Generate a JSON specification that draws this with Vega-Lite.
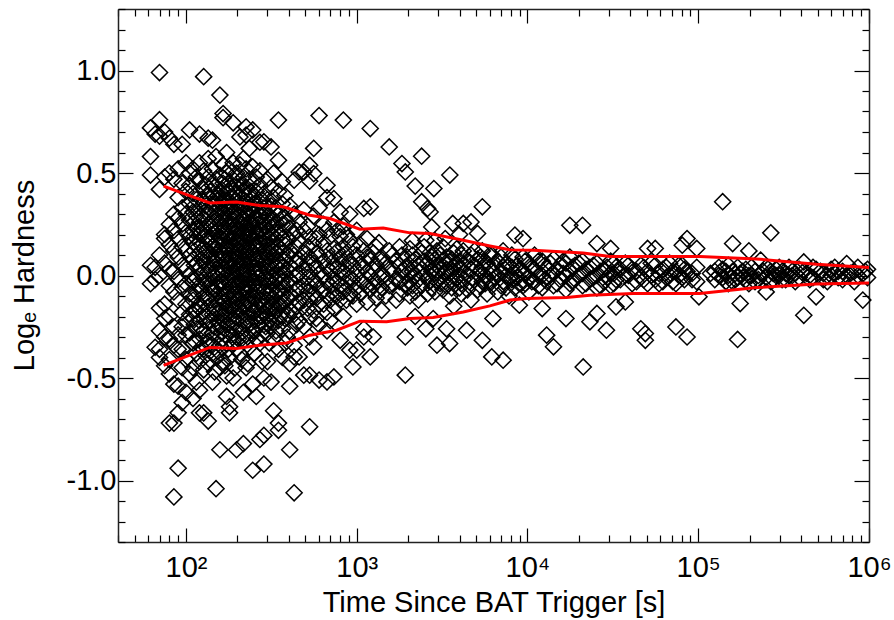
{
"$schema": "https://vega.github.io/schema/vega-lite/v6.json",
"width": 751, "height": 533,
"autosize": {"type": "none"},
"padding": {"left": 118, "top": 9, "right": 25, "bottom": 78},
"background": "white",
"config": {"view": {"stroke": null}, "font": "Liberation Sans",
  "axis": {"grid": false, "domainColor": "#222", "domainWidth": 1.5, "tickColor": "#000", "tickWidth": 1.2, "labelColor": "#000", "titleColor": "#000", "labelFontWeight": "normal", "titleFontWeight": "normal", "labelOverlap": false, "labelFlush": false, "labelBound": false}},
"datasets": {
"pts": [
{"t":62,"h":0.72},{"t":62,"h":0.58},{"t":62,"h":0.49},{"t":62,"h":0.05},{"t":62,"h":-0.04},
{"t":66,"h":0.69},{"t":66,"h":0.04},{"t":66,"h":-0.02},{"t":66,"h":-0.35},
{"t":70,"h":0.99},{"t":70,"h":0.68},{"t":70,"h":0.76},{"t":70,"h":0.42},{"t":70,"h":0.1},{"t":70,"h":0},{"t":70,"h":-0.16},{"t":70,"h":-0.27},{"t":70,"h":-0.36},{"t":70,"h":-0.4},
{"t":75,"h":0.48},{"t":75,"h":0.7},{"t":75,"h":0.2},{"t":75,"h":0.18},{"t":75,"h":0.06},{"t":75,"h":-0.14},{"t":75,"h":-0.21},{"t":75,"h":-0.3},{"t":75,"h":-0.44},
{"t":80,"h":0.67},{"t":80,"h":0.5},{"t":80,"h":0.25},{"t":80,"h":0.15},{"t":80,"h":0.03},{"t":80,"h":-0.05},{"t":80,"h":-0.2},{"t":80,"h":-0.31},{"t":80,"h":-0.41},{"t":80,"h":-0.48},{"t":80,"h":-0.72},
{"t":85,"h":0.64},{"t":85,"h":0.47},{"t":85,"h":0.3},{"t":85,"h":0.22},{"t":85,"h":0.12},{"t":85,"h":0.02},{"t":85,"h":-0.08},{"t":85,"h":-0.25},{"t":85,"h":-0.34},{"t":85,"h":-0.53},{"t":85,"h":-0.72},{"t":85,"h":-1.08},
{"t":90,"h":0.52},{"t":90,"h":0.38},{"t":90,"h":0.28},{"t":90,"h":0.18},{"t":90,"h":0.09},{"t":90,"h":-0.02},{"t":90,"h":-0.12},{"t":90,"h":-0.29},{"t":90,"h":-0.36},{"t":90,"h":-0.54},{"t":90,"h":-0.67},{"t":90,"h":-0.94},
{"t":95,"h":0.64},{"t":95,"h":0.45},{"t":95,"h":0.33},{"t":95,"h":0.25},{"t":95,"h":0.14},{"t":95,"h":0.05},{"t":95,"h":-0.06},{"t":95,"h":-0.18},{"t":95,"h":-0.25},{"t":95,"h":-0.36},{"t":95,"h":-0.45},{"t":95,"h":-0.62},
{"t":100,"h":0.55},{"t":100,"h":0.41},{"t":100,"h":0.3},{"t":100,"h":0.21},{"t":100,"h":0.12},{"t":100,"h":0.03},{"t":100,"h":-0.04},{"t":100,"h":-0.14},{"t":100,"h":-0.22},{"t":100,"h":-0.29},{"t":100,"h":-0.41},{"t":100,"h":-0.57},
{"t":105,"h":0.71},{"t":105,"h":0.5},{"t":105,"h":0.44},{"t":105,"h":0.35},{"t":105,"h":0.27},{"t":105,"h":0.19},{"t":105,"h":0.1},{"t":105,"h":0},{"t":105,"h":-0.09},{"t":105,"h":-0.19},{"t":105,"h":-0.28},{"t":105,"h":-0.48},
{"t":110,"h":0.52},{"t":110,"h":0.4},{"t":110,"h":0.31},{"t":110,"h":0.22},{"t":110,"h":0.16},{"t":110,"h":0.08},{"t":110,"h":-0.03},{"t":110,"h":-0.12},{"t":110,"h":-0.21},{"t":110,"h":-0.33},{"t":110,"h":-0.45},{"t":110,"h":-0.6},
{"t":115,"h":0.48},{"t":115,"h":0.37},{"t":115,"h":0.29},{"t":115,"h":0.23},{"t":115,"h":0.15},{"t":115,"h":0.06},{"t":115,"h":-0.01},{"t":115,"h":-0.08},{"t":115,"h":-0.17},{"t":115,"h":-0.26},{"t":115,"h":-0.38},{"t":115,"h":-0.52},
{"t":120,"h":0.69},{"t":120,"h":0.55},{"t":120,"h":0.46},{"t":120,"h":0.33},{"t":120,"h":0.26},{"t":120,"h":0.2},{"t":120,"h":0.11},{"t":120,"h":0.04},{"t":120,"h":-0.05},{"t":120,"h":-0.14},{"t":120,"h":-0.22},{"t":120,"h":-0.31},{"t":120,"h":-0.42},{"t":120,"h":-0.56},{"t":120,"h":-0.67},
{"t":127,"h":0.97},{"t":127,"h":0.51},{"t":127,"h":0.42},{"t":127,"h":0.36},{"t":127,"h":0.28},{"t":127,"h":0.22},{"t":127,"h":0.13},{"t":127,"h":0.07},{"t":127,"h":-0.02},{"t":127,"h":-0.1},{"t":127,"h":-0.18},{"t":127,"h":-0.27},{"t":127,"h":-0.36},{"t":127,"h":-0.46},{"t":127,"h":-0.67},
{"t":135,"h":0.67},{"t":135,"h":0.57},{"t":135,"h":0.48},{"t":135,"h":0.39},{"t":135,"h":0.31},{"t":135,"h":0.25},{"t":135,"h":0.17},{"t":135,"h":0.09},{"t":135,"h":0.02},{"t":135,"h":-0.06},{"t":135,"h":-0.15},{"t":135,"h":-0.23},{"t":135,"h":-0.32},{"t":135,"h":-0.43},{"t":135,"h":-0.71},
{"t":143,"h":0.66},{"t":143,"h":0.52},{"t":143,"h":0.44},{"t":143,"h":0.35},{"t":143,"h":0.27},{"t":143,"h":0.2},{"t":143,"h":0.14},{"t":143,"h":0.06},{"t":143,"h":-0.01},{"t":143,"h":-0.08},{"t":143,"h":-0.19},{"t":143,"h":-0.28},{"t":143,"h":-0.38},{"t":143,"h":-0.52},
{"t":150,"h":0.58},{"t":150,"h":0.47},{"t":150,"h":0.38},{"t":150,"h":0.32},{"t":150,"h":0.24},{"t":150,"h":0.16},{"t":150,"h":0.1},{"t":150,"h":0.03},{"t":150,"h":-0.05},{"t":150,"h":-0.12},{"t":150,"h":-0.21},{"t":150,"h":-0.3},{"t":150,"h":-0.4},{"t":150,"h":-1.04},
{"t":158,"h":0.88},{"t":158,"h":0.49},{"t":158,"h":0.41},{"t":158,"h":0.33},{"t":158,"h":0.26},{"t":158,"h":0.19},{"t":158,"h":0.12},{"t":158,"h":0.05},{"t":158,"h":-0.03},{"t":158,"h":-0.1},{"t":158,"h":-0.17},{"t":158,"h":-0.25},{"t":158,"h":-0.34},{"t":158,"h":-0.45},{"t":158,"h":-0.85},
{"t":165,"h":0.79},{"t":165,"h":0.77},{"t":165,"h":0.54},{"t":165,"h":0.45},{"t":165,"h":0.37},{"t":165,"h":0.3},{"t":165,"h":0.22},{"t":165,"h":0.15},{"t":165,"h":0.08},{"t":165,"h":0.01},{"t":165,"h":-0.06},{"t":165,"h":-0.13},{"t":165,"h":-0.22},{"t":165,"h":-0.31},{"t":165,"h":-0.42},
{"t":173,"h":0.6},{"t":173,"h":0.5},{"t":173,"h":0.4},{"t":173,"h":0.33},{"t":173,"h":0.27},{"t":173,"h":0.2},{"t":173,"h":0.14},{"t":173,"h":0.07},{"t":173,"h":0},{"t":173,"h":-0.09},{"t":173,"h":-0.16},{"t":173,"h":-0.24},{"t":173,"h":-0.33},{"t":173,"h":-0.49},{"t":173,"h":-0.59},
{"t":180,"h":0.52},{"t":180,"h":0.44},{"t":180,"h":0.36},{"t":180,"h":0.29},{"t":180,"h":0.24},{"t":180,"h":0.17},{"t":180,"h":0.1},{"t":180,"h":0.04},{"t":180,"h":-0.04},{"t":180,"h":-0.11},{"t":180,"h":-0.19},{"t":180,"h":-0.28},{"t":180,"h":-0.4},{"t":180,"h":-0.64},{"t":180,"h":-0.67},
{"t":189,"h":0.745},{"t":189,"h":0.55},{"t":189,"h":0.47},{"t":189,"h":0.38},{"t":189,"h":0.31},{"t":189,"h":0.25},{"t":189,"h":0.18},{"t":189,"h":0.12},{"t":189,"h":0.05},{"t":189,"h":-0.01},{"t":189,"h":-0.07},{"t":189,"h":-0.15},{"t":189,"h":-0.23},{"t":189,"h":-0.33},{"t":189,"h":-0.5},
{"t":198,"h":0.5},{"t":198,"h":0.43},{"t":198,"h":0.35},{"t":198,"h":0.28},{"t":198,"h":0.22},{"t":198,"h":0.16},{"t":198,"h":0.09},{"t":198,"h":0.03},{"t":198,"h":-0.05},{"t":198,"h":-0.13},{"t":198,"h":-0.2},{"t":198,"h":-0.3},{"t":198,"h":-0.36},{"t":198,"h":-0.85},
{"t":207,"h":0.676},{"t":207,"h":0.54},{"t":207,"h":0.46},{"t":207,"h":0.39},{"t":207,"h":0.32},{"t":207,"h":0.26},{"t":207,"h":0.19},{"t":207,"h":0.12},{"t":207,"h":0.06},{"t":207,"h":-0.02},{"t":207,"h":-0.09},{"t":207,"h":-0.17},{"t":207,"h":-0.26},{"t":207,"h":-0.38},
{"t":217,"h":0.57},{"t":217,"h":0.48},{"t":217,"h":0.41},{"t":217,"h":0.35},{"t":217,"h":0.28},{"t":217,"h":0.21},{"t":217,"h":0.14},{"t":217,"h":0.07},{"t":217,"h":0.01},{"t":217,"h":-0.06},{"t":217,"h":-0.14},{"t":217,"h":-0.22},{"t":217,"h":-0.32},{"t":217,"h":-0.57},{"t":217,"h":-0.82},
{"t":225,"h":0.725},{"t":225,"h":0.685},{"t":225,"h":0.52},{"t":225,"h":0.43},{"t":225,"h":0.36},{"t":225,"h":0.3},{"t":225,"h":0.23},{"t":225,"h":0.16},{"t":225,"h":0.1},{"t":225,"h":0.03},{"t":225,"h":-0.04},{"t":225,"h":-0.11},{"t":225,"h":-0.19},{"t":225,"h":-0.29},{"t":225,"h":-0.45},
{"t":235,"h":0.62},{"t":235,"h":0.47},{"t":235,"h":0.4},{"t":235,"h":0.33},{"t":235,"h":0.26},{"t":235,"h":0.2},{"t":235,"h":0.13},{"t":235,"h":0.07},{"t":235,"h":0},{"t":235,"h":-0.08},{"t":235,"h":-0.16},{"t":235,"h":-0.24},{"t":235,"h":-0.35},
{"t":246,"h":0.71},{"t":246,"h":0.53},{"t":246,"h":0.45},{"t":246,"h":0.37},{"t":246,"h":0.3},{"t":246,"h":0.24},{"t":246,"h":0.17},{"t":246,"h":0.11},{"t":246,"h":0.04},{"t":246,"h":-0.03},{"t":246,"h":-0.1},{"t":246,"h":-0.18},{"t":246,"h":-0.27},{"t":246,"h":-0.53},{"t":246,"h":-0.95},
{"t":258,"h":0.48},{"t":258,"h":0.41},{"t":258,"h":0.34},{"t":258,"h":0.27},{"t":258,"h":0.21},{"t":258,"h":0.14},{"t":258,"h":0.08},{"t":258,"h":0.01},{"t":258,"h":-0.06},{"t":258,"h":-0.14},{"t":258,"h":-0.22},{"t":258,"h":-0.31},{"t":258,"h":-0.59},
{"t":271,"h":0.65},{"t":271,"h":0.51},{"t":271,"h":0.44},{"t":271,"h":0.36},{"t":271,"h":0.29},{"t":271,"h":0.22},{"t":271,"h":0.16},{"t":271,"h":0.1},{"t":271,"h":0.03},{"t":271,"h":-0.04},{"t":271,"h":-0.12},{"t":271,"h":-0.2},{"t":271,"h":-0.33},{"t":271,"h":-0.8},
{"t":286,"h":0.652},{"t":286,"h":0.4},{"t":286,"h":0.33},{"t":286,"h":0.26},{"t":286,"h":0.19},{"t":286,"h":0.12},{"t":286,"h":0.06},{"t":286,"h":-0.01},{"t":286,"h":-0.08},{"t":286,"h":-0.15},{"t":286,"h":-0.24},{"t":286,"h":-0.5},{"t":286,"h":-0.78},{"t":286,"h":-0.92},
{"t":300,"h":0.47},{"t":300,"h":0.37},{"t":300,"h":0.29},{"t":300,"h":0.22},{"t":300,"h":0.15},{"t":300,"h":0.09},{"t":300,"h":0.02},{"t":300,"h":-0.05},{"t":300,"h":-0.12},{"t":300,"h":-0.2},{"t":300,"h":-0.28},{"t":300,"h":-0.42},
{"t":315,"h":0.627},{"t":315,"h":0.43},{"t":315,"h":0.34},{"t":315,"h":0.27},{"t":315,"h":0.2},{"t":315,"h":0.13},{"t":315,"h":0.06},{"t":315,"h":-0.01},{"t":315,"h":-0.08},{"t":315,"h":-0.16},{"t":315,"h":-0.25},{"t":315,"h":-0.52},
{"t":326,"h":0.5},{"t":326,"h":0.38},{"t":326,"h":0.24},{"t":326,"h":0.17},{"t":326,"h":0.1},{"t":326,"h":0.03},{"t":326,"h":-0.04},{"t":326,"h":-0.11},{"t":326,"h":-0.19},{"t":326,"h":-0.31},{"t":326,"h":-0.66},
{"t":348,"h":0.562},{"t":348,"h":0.758},{"t":348,"h":0.41},{"t":348,"h":0.3},{"t":348,"h":0.21},{"t":348,"h":0.14},{"t":348,"h":0.07},{"t":348,"h":0},{"t":348,"h":-0.07},{"t":348,"h":-0.14},{"t":348,"h":-0.22},{"t":348,"h":-0.36},{"t":348,"h":-0.72},{"t":348,"h":-0.755},
{"t":367,"h":0.457},{"t":367,"h":0.35},{"t":367,"h":0.25},{"t":367,"h":0.18},{"t":367,"h":0.11},{"t":367,"h":0.04},{"t":367,"h":-0.03},{"t":367,"h":-0.1},{"t":367,"h":-0.18},{"t":367,"h":-0.26},{"t":367,"h":-0.4},
{"t":380,"h":0.39},{"t":380,"h":0.28},{"t":380,"h":0.15},{"t":380,"h":0.08},{"t":380,"h":0.01},{"t":380,"h":-0.06},{"t":380,"h":-0.13},{"t":380,"h":-0.21},{"t":380,"h":-0.33},{"t":430,"h":-1.06},
{"t":405,"h":0.34},{"t":405,"h":0.23},{"t":405,"h":0.12},{"t":405,"h":0.05},{"t":405,"h":-0.02},{"t":405,"h":-0.09},{"t":405,"h":-0.17},{"t":405,"h":-0.27},{"t":405,"h":-0.43},{"t":405,"h":-0.54},{"t":405,"h":-0.85},
{"t":430,"h":0.465},{"t":430,"h":0.3},{"t":430,"h":0.2},{"t":430,"h":0.1},{"t":430,"h":0.03},{"t":430,"h":-0.04},{"t":430,"h":-0.11},{"t":430,"h":-0.19},{"t":430,"h":-0.34},{"t":430,"h":-0.397},
{"t":460,"h":0.505},{"t":460,"h":0.26},{"t":460,"h":0.17},{"t":460,"h":0.08},{"t":460,"h":0.01},{"t":460,"h":-0.06},{"t":460,"h":-0.13},{"t":460,"h":-0.22},{"t":460,"h":-0.397},
{"t":490,"h":0.505},{"t":490,"h":0.32},{"t":490,"h":0.22},{"t":490,"h":0.11},{"t":490,"h":0.03},{"t":490,"h":-0.05},{"t":490,"h":-0.12},{"t":490,"h":-0.25},{"t":490,"h":-0.486},
{"t":530,"h":0.538},{"t":530,"h":0.46},{"t":530,"h":0.19},{"t":530,"h":0.09},{"t":530,"h":0.02},{"t":530,"h":-0.05},{"t":530,"h":-0.12},{"t":530,"h":-0.2},{"t":530,"h":-0.3},{"t":530,"h":-0.486},{"t":530,"h":-0.738},
{"t":560,"h":0.62},{"t":560,"h":0.497},{"t":560,"h":0.29},{"t":560,"h":0.15},{"t":560,"h":0.06},{"t":560,"h":-0.02},{"t":560,"h":-0.09},{"t":560,"h":-0.17},{"t":560,"h":-0.348},
{"t":602,"h":0.78},{"t":602,"h":0.33},{"t":602,"h":0.2},{"t":602,"h":0.1},{"t":602,"h":0.01},{"t":602,"h":-0.06},{"t":602,"h":-0.14},{"t":602,"h":-0.24},{"t":602,"h":-0.51},
{"t":670,"h":0.44},{"t":670,"h":0.38},{"t":670,"h":0.22},{"t":670,"h":0.12},{"t":670,"h":0.04},{"t":670,"h":-0.03},{"t":670,"h":-0.1},{"t":670,"h":-0.18},{"t":670,"h":-0.27},{"t":670,"h":-0.519},
{"t":735,"h":0.375},{"t":735,"h":0.26},{"t":735,"h":0.13},{"t":735,"h":0.05},{"t":735,"h":-0.02},{"t":735,"h":-0.09},{"t":735,"h":-0.16},{"t":735,"h":-0.495},
{"t":800,"h":0.31},{"t":800,"h":0.19},{"t":800,"h":0.09},{"t":800,"h":0.02},{"t":800,"h":-0.05},{"t":800,"h":-0.12},{"t":800,"h":-0.316},
{"t":835,"h":0.758},{"t":835,"h":0.24},{"t":835,"h":0.14},{"t":835,"h":0.06},{"t":835,"h":-0.01},{"t":835,"h":-0.08},{"t":835,"h":-0.2},
{"t":910,"h":0.3},{"t":910,"h":0.17},{"t":910,"h":0.07},{"t":910,"h":-0.01},{"t":910,"h":-0.09},{"t":910,"h":-0.364},{"t":950,"h":-0.446},
{"t":1000,"h":0.22},{"t":1000,"h":0.1},{"t":1000,"h":0.02},{"t":1000,"h":-0.06},{"t":1000,"h":-0.14},{"t":1000,"h":-0.364},
{"t":1100,"h":0.327},{"t":1100,"h":0.12},{"t":1100,"h":0.04},{"t":1100,"h":-0.04},{"t":1100,"h":-0.26},{"t":1100,"h":-0.3},
{"t":1200,"h":0.717},{"t":1200,"h":0.335},{"t":1200,"h":0.08},{"t":1200,"h":0},{"t":1200,"h":-0.07},{"t":1200,"h":-0.397},{"t":1250,"h":-0.3},
{"t":1300,"h":0.14},{"t":1300,"h":0.05},{"t":1300,"h":-0.03},{"t":1300,"h":-0.11},
{"t":1400,"h":0.09},{"t":1400,"h":0.01},{"t":1400,"h":-0.06},{"t":1400,"h":-0.17},
{"t":1550,"h":0.627},{"t":1550,"h":0.12},{"t":1550,"h":0.03},{"t":1550,"h":-0.05},
{"t":1700,"h":0.07},{"t":1700,"h":-0.02},{"t":1700,"h":-0.12},
{"t":1840,"h":0.546},{"t":1925,"h":0.505},{"t":1840,"h":0.1},{"t":1840,"h":0.02},{"t":1925,"h":-0.3},
{"t":1925,"h":0.04},{"t":1925,"h":-0.04},{"t":1925,"h":-0.486},
{"t":2050,"h":0.13},{"t":2050,"h":0.05},{"t":2050,"h":-0.03},{"t":2050,"h":-0.1},
{"t":2200,"h":0.436},{"t":2200,"h":0.08},{"t":2200,"h":0},{"t":2200,"h":-0.08},{"t":2200,"h":-0.2},
{"t":2400,"h":0.582},{"t":2400,"h":0.36},{"t":2400,"h":0.11},{"t":2400,"h":0.03},{"t":2400,"h":-0.05},{"t":2540,"h":-0.26},
{"t":2600,"h":0.327},{"t":2690,"h":0.31},{"t":2540,"h":0.172},{"t":2600,"h":0.06},{"t":2600,"h":-0.01},{"t":2600,"h":-0.09},
{"t":2750,"h":0.237},{"t":2830,"h":0.424},{"t":2750,"h":0.09},{"t":2750,"h":0.02},{"t":2750,"h":-0.06},{"t":2805,"h":-0.21},
{"t":2950,"h":0.12},{"t":2950,"h":0.05},{"t":2950,"h":-0.03},{"t":2950,"h":-0.34},
{"t":3200,"h":0.075},{"t":3200,"h":0.14},{"t":3200,"h":0},{"t":3200,"h":-0.07},
{"t":3360,"h":0.09},{"t":3360,"h":0.03},{"t":3360,"h":-0.05},{"t":3360,"h":-0.26},{"t":3500,"h":-0.332},
{"t":3510,"h":0.49},{"t":3650,"h":0.254},{"t":3510,"h":0.066},{"t":3510,"h":0.01},{"t":3510,"h":-0.1},
{"t":3700,"h":0.11},{"t":3700,"h":0.04},{"t":3700,"h":-0.03},{"t":3700,"h":-0.15},
{"t":4000,"h":0.2},{"t":4000,"h":0.07},{"t":4000,"h":0},{"t":4000,"h":-0.06},
{"t":4210,"h":0.254},{"t":4210,"h":0.12},{"t":4210,"h":0.05},{"t":4210,"h":-0.02},{"t":4400,"h":-0.267},
{"t":4670,"h":0.261},{"t":4670,"h":0.1},{"t":4670,"h":0.03},{"t":4670,"h":-0.04},{"t":4670,"h":-0.12},
{"t":5100,"h":0.205},{"t":5100,"h":0.08},{"t":5100,"h":0.01},{"t":5100,"h":-0.07},
{"t":5440,"h":0.335},{"t":5440,"h":0.12},{"t":5440,"h":0.04},{"t":5440,"h":-0.03},{"t":5440,"h":-0.316},
{"t":5800,"h":0.06},{"t":5800,"h":-0.01},{"t":5800,"h":-0.09},
{"t":6200,"h":0.1},{"t":6200,"h":0.02},{"t":6200,"h":-0.05},{"t":6280,"h":-0.21},{"t":6180,"h":-0.397},
{"t":6700,"h":0.07},{"t":6700,"h":0},{"t":6700,"h":-0.08},
{"t":7200,"h":0.12},{"t":7200,"h":0.04},{"t":7200,"h":-0.03},{"t":7200,"h":-0.413},
{"t":7800,"h":0.05},{"t":7800,"h":-0.02},{"t":7800,"h":-0.1},
{"t":8440,"h":0.197},{"t":8440,"h":0.08},{"t":8440,"h":0.01},{"t":8440,"h":-0.06},
{"t":8960,"h":0.03},{"t":8960,"h":-0.04},{"t":8960,"h":-0.145},
{"t":9420,"h":0.18},{"t":9420,"h":0.09},{"t":9420,"h":0.02},{"t":9420,"h":-0.05},
{"t":10200,"h":0.06},{"t":10200,"h":-0.01},{"t":10200,"h":-0.08},
{"t":11000,"h":0.1},{"t":11000,"h":0.03},{"t":11000,"h":-0.03},
{"t":12200,"h":0.07},{"t":12200,"h":0},{"t":12200,"h":-0.06},{"t":12200,"h":-0.161},{"t":12950,"h":-0.291},
{"t":13000,"h":0.04},{"t":13000,"h":-0.03},
{"t":14200,"h":0.08},{"t":14200,"h":0.01},{"t":14200,"h":-0.05},{"t":14200,"h":-0.348},
{"t":15500,"h":0.05},{"t":15500,"h":-0.02},
{"t":16800,"h":0.06},{"t":16800,"h":0},{"t":16800,"h":-0.07},{"t":16800,"h":-0.21},
{"t":17700,"h":0.245},{"t":17700,"h":0.09},{"t":17700,"h":0.02},{"t":17700,"h":-0.04},
{"t":19000,"h":0.05},{"t":19000,"h":-0.02},
{"t":21000,"h":0.245},{"t":21000,"h":0.07},{"t":21000,"h":0.01},{"t":21000,"h":-0.05},{"t":21200,"h":-0.446},
{"t":23200,"h":0.04},{"t":23200,"h":-0.02},{"t":23200,"h":-0.226},
{"t":25500,"h":0.156},{"t":25500,"h":0.06},{"t":25500,"h":0},{"t":25500,"h":-0.06},{"t":25500,"h":-0.185},
{"t":28000,"h":0.03},{"t":28000,"h":-0.03},
{"t":30700,"h":0.132},{"t":30700,"h":0.07},{"t":30700,"h":0.01},{"t":30700,"h":-0.05},{"t":29000,"h":-0.267},
{"t":33000,"h":0.04},{"t":33000,"h":-0.02},{"t":33000,"h":-0.153},
{"t":37400,"h":0.06},{"t":37400,"h":0},{"t":37400,"h":-0.129},
{"t":41000,"h":0.03},{"t":41000,"h":-0.04},
{"t":46100,"h":0.05},{"t":46100,"h":-0.01},{"t":46100,"h":-0.26},
{"t":50500,"h":0.132},{"t":50500,"h":0.02},{"t":50500,"h":-0.04},{"t":49000,"h":-0.283},
{"t":56000,"h":0.132},{"t":56000,"h":0.05},{"t":56000,"h":-0.02},{"t":49000,"h":-0.316},
{"t":62000,"h":0.03},{"t":62000,"h":-0.03},
{"t":68000,"h":0.06},{"t":68000,"h":0},
{"t":74000,"h":0.02},{"t":74000,"h":-0.04},{"t":74000,"h":-0.251},
{"t":80600,"h":0.148},{"t":80600,"h":0.05},{"t":80600,"h":-0.01},
{"t":86000,"h":0.18},{"t":86000,"h":0.02},{"t":86000,"h":-0.3},
{"t":98000,"h":0.132},{"t":98000,"h":0.04},{"t":98000,"h":-0.03},
{"t":101000,"h":-0.104},
{"t":125000,"h":0.02},{"t":125000,"h":-0.02},
{"t":139000,"h":0.36},{"t":139000,"h":0.03},{"t":139000,"h":-0.01},
{"t":150000,"h":0.05},{"t":150000,"h":0},{"t":150000,"h":-0.04},
{"t":159000,"h":0.156},{"t":159000,"h":0.02},{"t":159000,"h":-0.03},
{"t":170000,"h":0.04},{"t":170000,"h":-0.01},{"t":170000,"h":-0.312},
{"t":176000,"h":-0.137},{"t":176000,"h":0.01},
{"t":190000,"h":0.03},{"t":190000,"h":-0.02},
{"t":198000,"h":0.12},{"t":198000,"h":0},{"t":198000,"h":-0.04},
{"t":215000,"h":0.02},{"t":215000,"h":-0.03},
{"t":232000,"h":0.075},{"t":232000,"h":0.01},
{"t":250000,"h":-0.08},{"t":250000,"h":0.04},{"t":250000,"h":-0.01},
{"t":266000,"h":0.208},{"t":266000,"h":0.02},{"t":266000,"h":-0.03},
{"t":285000,"h":0},{"t":285000,"h":0.03},
{"t":310000,"h":0.02},{"t":310000,"h":-0.02},
{"t":340000,"h":0.04},{"t":340000,"h":0},
{"t":370000,"h":0.01},{"t":370000,"h":-0.03},
{"t":415000,"h":0.066},{"t":415000,"h":-0.194},{"t":415000,"h":0.02},
{"t":450000,"h":0},{"t":450000,"h":-0.02},
{"t":490000,"h":-0.104},{"t":490000,"h":0.03},
{"t":540000,"h":0.01},{"t":540000,"h":-0.02},
{"t":600000,"h":0.03},{"t":600000,"h":0},
{"t":660000,"h":0.02},{"t":660000,"h":-0.01},
{"t":740000,"h":0.058},{"t":740000,"h":0},
{"t":820000,"h":0.02},{"t":820000,"h":-0.03},
{"t":920000,"h":-0.12},{"t":920000,"h":0.01},
{"t":980000,"h":0.03},{"t":980000,"h":-0.01},
{"t":112,"h":0.34},{"t":112,"h":0.26},{"t":112,"h":0.19},{"t":112,"h":0.12},{"t":112,"h":0.05},{"t":112,"h":-0.02},{"t":112,"h":-0.1},{"t":112,"h":-0.17},{"t":112,"h":-0.24},{"t":112,"h":-0.32},
{"t":123,"h":0.37},{"t":123,"h":0.29},{"t":123,"h":0.23},{"t":123,"h":0.15},{"t":123,"h":0.08},{"t":123,"h":0.01},{"t":123,"h":-0.07},{"t":123,"h":-0.15},{"t":123,"h":-0.26},{"t":123,"h":-0.35},
{"t":131,"h":0.44},{"t":131,"h":0.34},{"t":131,"h":0.27},{"t":131,"h":0.19},{"t":131,"h":0.12},{"t":131,"h":0.05},{"t":131,"h":-0.03},{"t":131,"h":-0.11},{"t":131,"h":-0.2},{"t":131,"h":-0.29},{"t":131,"h":-0.39},
{"t":139,"h":0.41},{"t":139,"h":0.32},{"t":139,"h":0.24},{"t":139,"h":0.16},{"t":139,"h":0.1},{"t":139,"h":0.03},{"t":139,"h":-0.04},{"t":139,"h":-0.12},{"t":139,"h":-0.22},{"t":139,"h":-0.34},
{"t":147,"h":0.43},{"t":147,"h":0.35},{"t":147,"h":0.28},{"t":147,"h":0.21},{"t":147,"h":0.13},{"t":147,"h":0.07},{"t":147,"h":0},{"t":147,"h":-0.07},{"t":147,"h":-0.16},{"t":147,"h":-0.25},{"t":147,"h":-0.35},{"t":147,"h":-0.47},
{"t":154,"h":0.39},{"t":154,"h":0.3},{"t":154,"h":0.22},{"t":154,"h":0.15},{"t":154,"h":0.08},{"t":154,"h":0.01},{"t":154,"h":-0.06},{"t":154,"h":-0.14},{"t":154,"h":-0.23},{"t":154,"h":-0.37},
{"t":162,"h":0.42},{"t":162,"h":0.35},{"t":162,"h":0.27},{"t":162,"h":0.18},{"t":162,"h":0.11},{"t":162,"h":0.04},{"t":162,"h":-0.03},{"t":162,"h":-0.11},{"t":162,"h":-0.19},{"t":162,"h":-0.28},
{"t":169,"h":0.47},{"t":169,"h":0.37},{"t":169,"h":0.3},{"t":169,"h":0.23},{"t":169,"h":0.17},{"t":169,"h":0.1},{"t":169,"h":0.03},{"t":169,"h":-0.05},{"t":169,"h":-0.13},{"t":169,"h":-0.2},{"t":169,"h":-0.29},{"t":169,"h":-0.44},
{"t":177,"h":0.41},{"t":177,"h":0.32},{"t":177,"h":0.25},{"t":177,"h":0.19},{"t":177,"h":0.12},{"t":177,"h":0.06},{"t":177,"h":-0.02},{"t":177,"h":-0.08},{"t":177,"h":-0.15},{"t":177,"h":-0.24},{"t":177,"h":-0.36},
{"t":185,"h":0.43},{"t":185,"h":0.34},{"t":185,"h":0.27},{"t":185,"h":0.21},{"t":185,"h":0.14},{"t":185,"h":0.08},{"t":185,"h":0.01},{"t":185,"h":-0.05},{"t":185,"h":-0.12},{"t":185,"h":-0.2},{"t":185,"h":-0.29},
{"t":194,"h":0.4},{"t":194,"h":0.31},{"t":194,"h":0.24},{"t":194,"h":0.18},{"t":194,"h":0.11},{"t":194,"h":0.05},{"t":194,"h":-0.02},{"t":194,"h":-0.09},{"t":194,"h":-0.17},{"t":194,"h":-0.26},{"t":194,"h":-0.45},
{"t":203,"h":0.36},{"t":203,"h":0.29},{"t":203,"h":0.22},{"t":203,"h":0.15},{"t":203,"h":0.08},{"t":203,"h":0.02},{"t":203,"h":-0.05},{"t":203,"h":-0.12},{"t":203,"h":-0.21},{"t":203,"h":-0.31},
{"t":212,"h":0.44},{"t":212,"h":0.33},{"t":212,"h":0.25},{"t":212,"h":0.18},{"t":212,"h":0.11},{"t":212,"h":0.04},{"t":212,"h":-0.03},{"t":212,"h":-0.1},{"t":212,"h":-0.18},{"t":212,"h":-0.28},{"t":212,"h":-0.41},
{"t":221,"h":0.39},{"t":221,"h":0.31},{"t":221,"h":0.24},{"t":221,"h":0.17},{"t":221,"h":0.12},{"t":221,"h":0.05},{"t":221,"h":-0.02},{"t":221,"h":-0.08},{"t":221,"h":-0.15},{"t":221,"h":-0.24},
{"t":230,"h":0.35},{"t":230,"h":0.28},{"t":230,"h":0.21},{"t":230,"h":0.14},{"t":230,"h":0.08},{"t":230,"h":0.02},{"t":230,"h":-0.05},{"t":230,"h":-0.12},{"t":230,"h":-0.2},{"t":230,"h":-0.3},{"t":230,"h":-0.43},
{"t":240,"h":0.41},{"t":240,"h":0.32},{"t":240,"h":0.25},{"t":240,"h":0.19},{"t":240,"h":0.12},{"t":240,"h":0.06},{"t":240,"h":-0.01},{"t":240,"h":-0.07},{"t":240,"h":-0.14},{"t":240,"h":-0.23},
{"t":252,"h":0.35},{"t":252,"h":0.28},{"t":252,"h":0.22},{"t":252,"h":0.15},{"t":252,"h":0.09},{"t":252,"h":0.02},{"t":252,"h":-0.04},{"t":252,"h":-0.11},{"t":252,"h":-0.18},{"t":252,"h":-0.27},{"t":252,"h":-0.38},
{"t":265,"h":0.32},{"t":265,"h":0.25},{"t":265,"h":0.19},{"t":265,"h":0.12},{"t":265,"h":0.06},{"t":265,"h":-0.01},{"t":265,"h":-0.08},{"t":265,"h":-0.16},{"t":265,"h":-0.24},
{"t":279,"h":0.37},{"t":279,"h":0.29},{"t":279,"h":0.22},{"t":279,"h":0.15},{"t":279,"h":0.08},{"t":279,"h":0.01},{"t":279,"h":-0.05},{"t":279,"h":-0.12},{"t":279,"h":-0.2},{"t":279,"h":-0.29},{"t":279,"h":-0.42},
{"t":293,"h":0.31},{"t":293,"h":0.24},{"t":293,"h":0.17},{"t":293,"h":0.11},{"t":293,"h":0.04},{"t":293,"h":-0.02},{"t":293,"h":-0.09},{"t":293,"h":-0.17},{"t":293,"h":-0.25},
{"t":308,"h":0.33},{"t":308,"h":0.25},{"t":308,"h":0.18},{"t":308,"h":0.11},{"t":308,"h":0.05},{"t":308,"h":-0.02},{"t":308,"h":-0.09},{"t":308,"h":-0.15},{"t":308,"h":-0.22},{"t":308,"h":-0.33},
{"t":320,"h":0.28},{"t":320,"h":0.2},{"t":320,"h":0.14},{"t":320,"h":0.07},{"t":320,"h":0},{"t":320,"h":-0.07},{"t":320,"h":-0.14},{"t":320,"h":-0.23},
{"t":337,"h":0.33},{"t":337,"h":0.26},{"t":337,"h":0.18},{"t":337,"h":0.11},{"t":337,"h":0.05},{"t":337,"h":-0.02},{"t":337,"h":-0.09},{"t":337,"h":-0.17},{"t":337,"h":-0.27},
{"t":358,"h":0.27},{"t":358,"h":0.2},{"t":358,"h":0.13},{"t":358,"h":0.06},{"t":358,"h":0},{"t":358,"h":-0.07},{"t":358,"h":-0.14},{"t":358,"h":-0.2},
{"t":392,"h":0.26},{"t":392,"h":0.18},{"t":392,"h":0.1},{"t":392,"h":0.03},{"t":392,"h":-0.04},{"t":392,"h":-0.11},{"t":392,"h":-0.19},{"t":392,"h":-0.3},
{"t":445,"h":0.22},{"t":445,"h":0.14},{"t":445,"h":0.06},{"t":445,"h":0},{"t":445,"h":-0.07},{"t":445,"h":-0.15},{"t":445,"h":-0.24},
{"t":515,"h":0.24},{"t":515,"h":0.14},{"t":515,"h":0.06},{"t":515,"h":-0.01},{"t":515,"h":-0.08},{"t":515,"h":-0.16},
{"t":580,"h":0.18},{"t":580,"h":0.11},{"t":580,"h":0.04},{"t":580,"h":-0.04},{"t":580,"h":-0.11},{"t":580,"h":-0.21},
{"t":640,"h":0.25},{"t":640,"h":0.16},{"t":640,"h":0.07},{"t":640,"h":0},{"t":640,"h":-0.07},{"t":640,"h":-0.14},
{"t":700,"h":0.19},{"t":700,"h":0.09},{"t":700,"h":0.02},{"t":700,"h":-0.05},{"t":700,"h":-0.12},{"t":700,"h":-0.22},
{"t":770,"h":0.22},{"t":770,"h":0.12},{"t":770,"h":0.04},{"t":770,"h":-0.03},{"t":770,"h":-0.1},
{"t":870,"h":0.2},{"t":870,"h":0.11},{"t":870,"h":0.03},{"t":870,"h":-0.04},{"t":870,"h":-0.12},
{"t":950,"h":0.14},{"t":950,"h":0.05},{"t":950,"h":-0.02},{"t":950,"h":-0.1},
{"t":1050,"h":0.15},{"t":1050,"h":0.06},{"t":1050,"h":-0.02},{"t":1050,"h":-0.09},
{"t":1150,"h":0.18},{"t":1150,"h":0.09},{"t":1150,"h":0.02},{"t":1150,"h":-0.05},{"t":1150,"h":-0.13},
{"t":1250,"h":0.11},{"t":1250,"h":0.03},{"t":1250,"h":-0.05},
{"t":1350,"h":0.16},{"t":1350,"h":0.08},{"t":1350,"h":0},{"t":1350,"h":-0.08},
{"t":1480,"h":0.06},{"t":1480,"h":-0.02},{"t":1480,"h":-0.1},
{"t":1620,"h":0.1},{"t":1620,"h":0.03},{"t":1620,"h":-0.04},
{"t":1780,"h":0.14},{"t":1780,"h":0.05},{"t":1780,"h":-0.03},{"t":1780,"h":-0.09},
{"t":1980,"h":0.09},{"t":1980,"h":0.01},{"t":1980,"h":-0.06},
{"t":2120,"h":0.17},{"t":2120,"h":0.1},{"t":2120,"h":0.02},{"t":2120,"h":-0.05},
{"t":2300,"h":0.05},{"t":2300,"h":-0.02},{"t":2300,"h":-0.12},
{"t":2480,"h":0.14},{"t":2480,"h":0.07},{"t":2480,"h":0},
{"t":2680,"h":0.11},{"t":2680,"h":0.04},{"t":2680,"h":-0.03},
{"t":2870,"h":0.17},{"t":2870,"h":0.08},{"t":2870,"h":0.01},{"t":2870,"h":-0.08},
{"t":3080,"h":0.1},{"t":3080,"h":0.03},{"t":3080,"h":-0.04},
{"t":3300,"h":0.18},{"t":3300,"h":0.06},{"t":3300,"h":0.02},{"t":3300,"h":-0.03},
{"t":3600,"h":0.08},{"t":3600,"h":0.02},{"t":3600,"h":-0.06},
{"t":3850,"h":0.13},{"t":3850,"h":0.06},{"t":3850,"h":-0.01},
{"t":4100,"h":0.1},{"t":4100,"h":0.03},{"t":4100,"h":-0.04},{"t":4100,"h":-0.09},
{"t":4450,"h":0.07},{"t":4450,"h":0},{"t":4450,"h":-0.07},
{"t":4900,"h":0.12},{"t":4900,"h":0.05},{"t":4900,"h":-0.02},
{"t":5300,"h":0.09},{"t":5300,"h":0.02},{"t":5300,"h":-0.05},
{"t":5650,"h":0.07},{"t":5650,"h":0},{"t":5650,"h":-0.04},
{"t":6000,"h":0.1},{"t":6000,"h":0.04},{"t":6000,"h":-0.03},
{"t":6450,"h":0.06},{"t":6450,"h":-0.01},
{"t":7000,"h":0.09},{"t":7000,"h":0.02},{"t":7000,"h":-0.05},
{"t":7500,"h":0.06},{"t":7500,"h":0},{"t":7500,"h":-0.06},
{"t":8100,"h":0.1},{"t":8100,"h":0.04},{"t":8100,"h":-0.02},
{"t":8700,"h":0.05},{"t":8700,"h":-0.01},
{"t":9700,"h":0.07},{"t":9700,"h":0.01},{"t":9700,"h":-0.04},
{"t":10600,"h":0.04},{"t":10600,"h":-0.03},
{"t":11600,"h":0.07},{"t":11600,"h":0},{"t":11600,"h":-0.05},
{"t":12600,"h":0.05},{"t":12600,"h":-0.02},
{"t":13600,"h":0.06},{"t":13600,"h":0},
{"t":14900,"h":0.03},{"t":14900,"h":-0.04},
{"t":16200,"h":0.07},{"t":16200,"h":0.01},
{"t":18300,"h":0.04},{"t":18300,"h":-0.03},
{"t":20000,"h":0.06},{"t":20000,"h":0},
{"t":22000,"h":0.03},{"t":22000,"h":-0.04},
{"t":24300,"h":0.05},{"t":24300,"h":-0.01},
{"t":26800,"h":0.02},{"t":26800,"h":-0.05},
{"t":29300,"h":0.04},{"t":29300,"h":-0.01},
{"t":32000,"h":0.06},{"t":32000,"h":0.01},{"t":32000,"h":-0.04},
{"t":35000,"h":0.03},{"t":35000,"h":-0.02},
{"t":39000,"h":0.05},{"t":39000,"h":0},
{"t":43500,"h":0.02},{"t":43500,"h":-0.03},
{"t":48000,"h":0.04},{"t":48000,"h":-0.02},
{"t":53000,"h":0.06},{"t":53000,"h":0},
{"t":59000,"h":0.01},{"t":59000,"h":-0.04},
{"t":65000,"h":0.04},{"t":65000,"h":-0.01},
{"t":71000,"h":0.02},{"t":71000,"h":-0.03},
{"t":77000,"h":0.05},{"t":77000,"h":0},
{"t":83000,"h":0.03},{"t":83000,"h":-0.02},
{"t":92000,"h":0.01},{"t":92000,"h":-0.02},
{"t":118000,"h":0.01},
{"t":132000,"h":0},{"t":132000,"h":0.04},
{"t":145000,"h":0.02},{"t":145000,"h":-0.03},
{"t":165000,"h":0.01},{"t":165000,"h":-0.02},
{"t":182000,"h":0.02},{"t":182000,"h":-0.01},
{"t":205000,"h":0.04},{"t":205000,"h":0},
{"t":225000,"h":0},{"t":225000,"h":-0.02},
{"t":240000,"h":0.02},
{"t":275000,"h":0.01},{"t":275000,"h":-0.02},
{"t":298000,"h":0.04},{"t":298000,"h":0},
{"t":325000,"h":0.01},{"t":325000,"h":-0.02},
{"t":355000,"h":0.02},{"t":355000,"h":0},
{"t":390000,"h":0.03},{"t":390000,"h":-0.01},
{"t":430000,"h":0.01},
{"t":470000,"h":0.04},{"t":470000,"h":-0.01},
{"t":520000,"h":0.02},
{"t":570000,"h":0},{"t":570000,"h":-0.03},
{"t":630000,"h":0.04},{"t":630000,"h":0.01},
{"t":700000,"h":0.02},{"t":700000,"h":-0.02},
{"t":780000,"h":0.01},
{"t":860000,"h":0.04},{"t":860000,"h":0},
{"t":950000,"h":0.02}
],
"lines": [
{"s":"u","t":74,"h":0.436},{"s":"u","t":100,"h":0.396},{"s":"u","t":138,"h":0.354},{"s":"u","t":198,"h":0.359},{"s":"u","t":271,"h":0.341},{"s":"u","t":371,"h":0.335},{"s":"u","t":532,"h":0.294},{"s":"u","t":697,"h":0.278},{"s":"u","t":1044,"h":0.226},{"s":"u","t":1430,"h":0.232},{"s":"u","t":2052,"h":0.208},{"s":"u","t":2687,"h":0.205},{"s":"u","t":4207,"h":0.172},{"s":"u","t":6026,"h":0.144},{"s":"u","t":7889,"h":0.125},{"s":"u","t":10810,"h":0.123},{"s":"u","t":21200,"h":0.11},{"s":"u","t":30400,"h":0.093},{"s":"u","t":102000,"h":0.093},{"s":"u","t":219000,"h":0.081},{"s":"u","t":493000,"h":0.055},{"s":"u","t":1000000,"h":0.039},
{"s":"l","t":74,"h":-0.438},{"s":"l","t":100,"h":-0.396},{"s":"l","t":138,"h":-0.351},{"s":"l","t":198,"h":-0.356},{"s":"l","t":271,"h":-0.34},{"s":"l","t":389,"h":-0.329},{"s":"l","t":532,"h":-0.291},{"s":"l","t":762,"h":-0.267},{"s":"l","t":1044,"h":-0.223},{"s":"l","t":1496,"h":-0.226},{"s":"l","t":2052,"h":-0.21},{"s":"l","t":2805,"h":-0.205},{"s":"l","t":4207,"h":-0.178},{"s":"l","t":6026,"h":-0.148},{"s":"l","t":7889,"h":-0.12},{"s":"l","t":9860,"h":-0.112},{"s":"l","t":16900,"h":-0.107},{"s":"l","t":23200,"h":-0.096},{"s":"l","t":41600,"h":-0.088},{"s":"l","t":102000,"h":-0.088},{"s":"l","t":219000,"h":-0.059},{"s":"l","t":493000,"h":-0.042},{"s":"l","t":1000000,"h":-0.036}
]
},
"layer": [
{"data": {"name": "pts"},
 "mark": {"type": "point", "shape": "diamond", "filled": false, "color": "black", "strokeWidth": 1.5, "size": 260, "opacity": 1},
 "encoding": {
  "x": {"field": "t", "type": "quantitative",
   "scale": {"type": "log", "domain": [40, 1000000], "nice": false},
   "axis": {"orient": "bottom",
    "values": [40,50,60,70,80,90,100,200,300,400,500,600,700,800,900,1000,2000,3000,4000,5000,6000,7000,8000,9000,10000,20000,30000,40000,50000,60000,70000,80000,90000,100000,200000,300000,400000,500000,600000,700000,800000,900000,1000000],
    "tickSize": {"condition": {"test": "indexof([100,1000,10000,100000,1000000], datum.value) >= 0", "value": -14}, "value": -7},
    "labelExpr": "datum.value == 100 ? '10²' : datum.value == 1000 ? '10³' : datum.value == 10000 ? '10⁴' : datum.value == 100000 ? '10⁵' : datum.value == 1000000 ? '10⁶' : ''",
    "labelFontSize": 29, "labelPadding": 25, "labelAngle": 0,
    "title": "Time Since BAT Trigger [s]", "titleFontSize": 29, "titleY": 69, "titleBaseline": "alphabetic"}},
  "y": {"field": "h", "type": "quantitative",
   "scale": {"domain": [-1.3, 1.3], "nice": false, "zero": false},
   "axis": {"orient": "left",
    "values": [-1.3,-1.2,-1.1,-1,-0.9,-0.8,-0.7,-0.6,-0.5,-0.4,-0.3,-0.2,-0.1,0,0.1,0.2,0.3,0.4,0.5,0.6,0.7,0.8,0.9,1,1.1,1.2,1.3],
    "tickSize": {"condition": {"test": "indexof([-1,-0.5,0,0.5,1], datum.value) >= 0", "value": -15}, "value": -7},
    "labelExpr": "datum.value == 1 ? '1.0' : datum.value == 0.5 ? '0.5' : datum.value == 0 ? '0.0' : datum.value == -0.5 ? '-0.5' : datum.value == -1 ? '-1.0' : ''",
    "labelFontSize": 29, "labelPadding": 17,
    "title": "Logₑ Hardness", "titleFontSize": 29, "titleX": -85, "titleY": 266, "titleAngle": 270, "titleBaseline": "alphabetic", "titleAlign": "center"}}
 }},
{"data": {"name": "lines"},
 "mark": {"type": "line", "color": "#ff0000", "strokeWidth": 3},
 "encoding": {
  "x": {"field": "t", "type": "quantitative",
   "scale": {"type": "log", "domain": [40, 1000000], "nice": false},
   "axis": {"orient": "top", "labels": false, "title": null,
    "values": [40,50,60,70,80,90,100,200,300,400,500,600,700,800,900,1000,2000,3000,4000,5000,6000,7000,8000,9000,10000,20000,30000,40000,50000,60000,70000,80000,90000,100000,200000,300000,400000,500000,600000,700000,800000,900000,1000000],
    "tickSize": {"condition": {"test": "indexof([100,1000,10000,100000,1000000], datum.value) >= 0", "value": -14}, "value": -7}}},
  "y": {"field": "h", "type": "quantitative",
   "scale": {"domain": [-1.3, 1.3], "nice": false, "zero": false},
   "axis": {"orient": "right", "labels": false, "title": null,
    "values": [-1.3,-1.2,-1.1,-1,-0.9,-0.8,-0.7,-0.6,-0.5,-0.4,-0.3,-0.2,-0.1,0,0.1,0.2,0.3,0.4,0.5,0.6,0.7,0.8,0.9,1,1.1,1.2,1.3],
    "tickSize": {"condition": {"test": "indexof([-1,-0.5,0,0.5,1], datum.value) >= 0", "value": -15}, "value": -7}}},
  "detail": {"field": "s"}
 }}
],
"resolve": {"axis": {"x": "independent", "y": "independent"}}
}
